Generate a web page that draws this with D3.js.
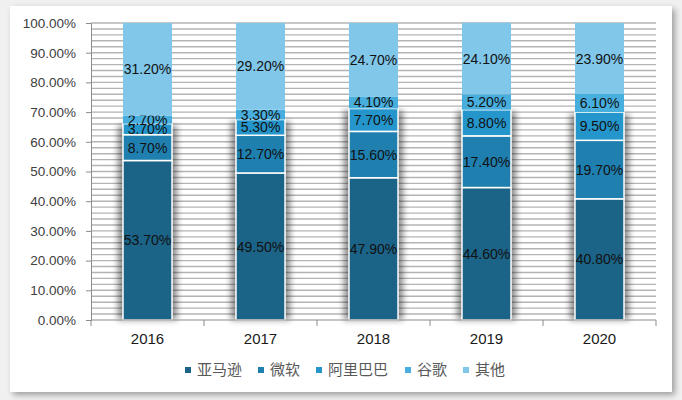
<!DOCTYPE html>
<html>
<head>
<meta charset="utf-8">
<script src="https://cdn.jsdelivr.net/npm/d3@7"></script>
<style>
  html, body { margin: 0; padding: 0; background: #f0f0f0; }
  svg { display: block; }
</style>
</head>
<body>
<div id="chart"></div>
<script>
// market share by company, stacked to 100%
const years = ["2016", "2017", "2018", "2019", "2020"];
const companies = ["亚马逊", "微软", "阿里巴巴", "谷歌", "其他"];
const amazon = [53.7, 49.5, 47.9, 44.6, 40.8];
const microsoft = [8.7, 12.7, 15.6, 17.4, 19.7];
const alibaba = [3.7, 5.3, 7.7, 8.8, 9.5];
const google = [2.7, 3.3, 4.1, 5.2, 6.1];
const others = [31.2, 29.2, 24.7, 24.1, 23.9];
const yTicks = [0, 10, 20, 30, 40, 50, 60, 70, 80, 90, 100];
const colors = ["#1b6387", "#1f80b0", "#2596cc", "#47aede", "#80c7e9"];

const width = 682, height = 400;
const plotLeft = 91, plotRight = 656, plotTop = 23, plotBottom = 320;

// build rows for d3.stack
const rows = years.map(function (y, i) {
    return { year: y, "亚马逊": amazon[i], "微软": microsoft[i], "阿里巴巴": alibaba[i],
             "谷歌": google[i], "其他": others[i] };
});
const series = d3.stack().keys(companies)(rows);

const svg = d3.select("#chart").append("svg")
    .attr("width", width)
    .attr("height", height);

const defs = svg.append("defs");
const frameShadow = defs.append("filter").attr("id", "frameShadow")
    .attr("x", "-5%").attr("y", "-5%").attr("width", "115%").attr("height", "115%");
frameShadow.append("feGaussianBlur").attr("in", "SourceAlpha").attr("stdDeviation", 3);
frameShadow.append("feOffset").attr("dx", 3).attr("dy", 3).attr("result", "off");
frameShadow.append("feComponentTransfer").append("feFuncA").attr("type", "linear").attr("slope", 0.35);
const fm = frameShadow.append("feMerge");
fm.append("feMergeNode");
fm.append("feMergeNode").attr("in", "SourceGraphic");

const barShadow = defs.append("filter").attr("id", "barShadow")
    .attr("x", "-50%").attr("y", "-20%").attr("width", "200%").attr("height", "140%");
barShadow.append("feGaussianBlur").attr("stdDeviation", 3);

// white chart frame
svg.append("rect")
    .attr("x", 10).attr("y", 6)
    .attr("width", 662).attr("height", 386)
    .attr("fill", "#ffffff")
    .attr("filter", "url(#frameShadow)");

const x = d3.scaleBand().domain(years).range([plotLeft, plotRight]).paddingInner(0.566).paddingOuter(0.283);
const y = d3.scaleLinear().domain([0, 100]).range([plotBottom, plotTop]);

// dense horizontal gridlines, every 2%
const minor = d3.range(2, 101, 2);
svg.append("g").selectAll("line")
    .data(minor)
    .enter().append("line")
    .attr("x1", plotLeft).attr("x2", plotRight)
    .attr("y1", function (d) { return y(d); })
    .attr("y2", function (d) { return y(d); })
    .attr("stroke", "#b4b4b4")
    .attr("stroke-width", 1.4);

// shadow behind lower three series
svg.append("g").selectAll("rect")
    .data(rows)
    .enter().append("rect")
    .attr("x", function (d) { return x(d.year) - 5; })
    .attr("width", x.bandwidth() + 10)
    .attr("y", function (d, i) { return y(series[2][i][1]) + 2; })
    .attr("height", function (d, i) { return y(0) - y(series[2][i][1]) - 2; })
    .attr("fill", "#000")
    .attr("opacity", 0.45)
    .attr("filter", "url(#barShadow)");

// bars
const groups = svg.append("g").selectAll("g")
    .data(series)
    .enter().append("g")
    .attr("fill", function (d, i) { return colors[i]; });

groups.selectAll("rect")
    .data(function (d) { return d.map(function (v) { v.idx = d.index; return v; }); })
    .enter().append("rect")
    .attr("x", function (d) { return x(d.data.year); })
    .attr("width", x.bandwidth())
    .attr("y", function (d) { return y(d[1]); })
    .attr("height", function (d) { return y(d[0]) - y(d[1]); })
    .attr("stroke", function (d) { return d.idx < 3 ? "#ffffff" : "none"; })
    .attr("stroke-width", 1.5);

// data labels
groups.selectAll("text")
    .data(function (d) { return d; })
    .enter().append("text")
    .attr("x", function (d) { return x(d.data.year) + x.bandwidth() / 2; })
    .attr("y", function (d) { return (y(d[0]) + y(d[1])) / 2; })
    .attr("dy", "0.36em")
    .attr("text-anchor", "middle")
    .attr("font-family", "Liberation Sans, Arial, sans-serif")
    .attr("font-size", 14)
    .attr("fill", "#111111")
    .text(function (d) { return (d[1] - d[0]).toFixed(2) + "%"; });

// y axis
const yAxis = svg.append("g")
    .attr("transform", "translate(" + plotLeft + ",0)")
    .call(d3.axisLeft(y).tickValues(yTicks).tickSize(5).tickPadding(10)
        .tickFormat(function (d) { return d.toFixed(2) + "%"; }));
yAxis.select(".domain").attr("stroke", "#8c8c8c");
yAxis.selectAll(".tick line").attr("stroke", "#8c8c8c");
yAxis.selectAll("text")
    .attr("font-family", "Liberation Sans, Arial, sans-serif")
    .attr("font-size", 13.5)
    .attr("fill", "#404040");

// x axis, ticks between categories
const xAxis = svg.append("g")
    .attr("transform", "translate(0," + plotBottom + ")");
xAxis.append("line")
    .attr("x1", plotLeft).attr("x2", plotRight)
    .attr("stroke", "#8c8c8c");
const edges = years.map(function (yr) { return x(yr) - x.step() * 0.283; }).concat([plotRight]);
xAxis.selectAll(".edge")
    .data(edges)
    .enter().append("line")
    .attr("x1", function (d) { return d; })
    .attr("x2", function (d) { return d; })
    .attr("y1", 0).attr("y2", 6)
    .attr("stroke", "#8c8c8c");
xAxis.selectAll("text")
    .data(years)
    .enter().append("text")
    .attr("x", function (d) { return x(d) + x.bandwidth() / 2; })
    .attr("y", 24)
    .attr("text-anchor", "middle")
    .attr("font-family", "Liberation Sans, Arial, sans-serif")
    .attr("font-size", 15)
    .attr("fill", "#1a1a1a")
    .text(function (d) { return d; });

// legend
const legendX = [185, 258, 316, 405, 463];
const legend = svg.append("g").selectAll("g")
    .data(companies)
    .enter().append("g")
    .attr("transform", function (d, i) { return "translate(" + legendX[i] + ",370)"; });
legend.append("rect")
    .attr("x", 0).attr("y", -3)
    .attr("width", 6).attr("height", 6)
    .attr("fill", function (d, i) { return colors[i]; });
legend.append("text")
    .attr("x", 12)
    .attr("dy", "0.36em")
    .attr("font-family", "Noto Sans CJK SC, sans-serif")
    .attr("font-size", 15)
    .attr("fill", "#595959")
    .text(function (d) { return d; });
</script>
</body>
</html>
